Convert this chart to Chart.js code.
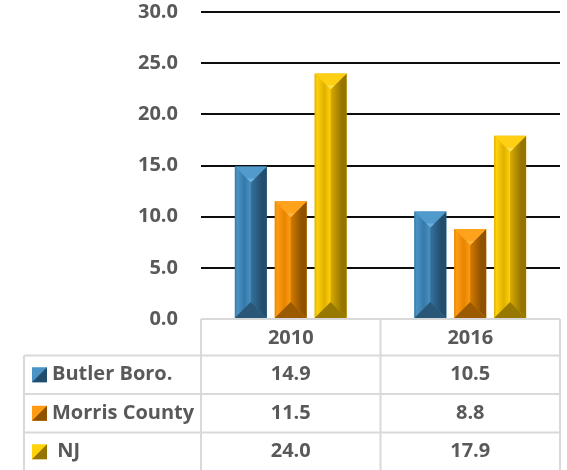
<!DOCTYPE html>
<html><head><meta charset="utf-8">
<script src="https://cdn.jsdelivr.net/npm/chart.js@4.4.1/dist/chart.umd.min.js"></script>
<style>html,body{margin:0;padding:0;background:#fff}#wrap{width:567px;height:470px;position:relative}</style>
</head><body><div id="wrap"><canvas id="c" width="567" height="470"></canvas></div>
<script>
const categories = ['2010', '2016'];
const seriesNames = ['Butler Boro.', 'Morris County', 'NJ'];
const butlerValues = [14.9, 10.5];
const morrisValues = [11.5, 8.8];
const njValues = [24.0, 17.9];
const yTickMin = 0, yTickMax = 30, yTickStep = 5;

const palettes = [
  {main:'#3a7fb0', light:'#6ab0dc', edgeL:'#3579a9', ridgeL:'#4a93c4', ridgeR:'#35729e', edgeR:'#234d6c', top:'#519bcc', bottom:'#2a5777'},
  {main:'#f08c00', light:'#ffb640', edgeL:'#e88500', ridgeL:'#ff9c14', ridgeR:'#d27a00', edgeR:'#8f5200', top:'#ffa21c', bottom:'#9c5a00'},
  {main:'#e8b800', light:'#ffe050', edgeL:'#e0b000', ridgeL:'#ffd20a', ridgeR:'#d8aa00', edgeR:'#957500', top:'#ffcf14', bottom:'#977800'}
];
const textColor = '#595959';
const fontFam = '"Open Sans", Lato, sans-serif';
const fontSize = 20;

const facetPlugin = {
  id: 'facets',
  afterDatasetsDraw(chart) {
    const ctx = chart.ctx;
    chart.data.datasets.forEach((ds, di) => {
      const meta = chart.getDatasetMeta(di);
      const p = palettes[di];
      meta.data.forEach(el => {
        const {x, y, base, width} = el.getProps(['x','y','base','width'], true);
        const l = x - width/2, r = x + width/2, h = width/2;
        const t = y, b = base;
        const bev = Math.min(h, (b - t)/2);
        ctx.save();
        let g = ctx.createLinearGradient(l, 0, x, 0);
        g.addColorStop(0, p.edgeL); g.addColorStop(0.15, p.ridgeL); g.addColorStop(0.6, p.edgeL); g.addColorStop(1, p.ridgeL);
        ctx.fillStyle = g;
        ctx.beginPath(); ctx.moveTo(l, t); ctx.lineTo(x, t + bev); ctx.lineTo(x, b - bev); ctx.lineTo(l, b); ctx.closePath(); ctx.fill();
        g = ctx.createLinearGradient(x, 0, r, 0);
        g.addColorStop(0, p.ridgeR); g.addColorStop(0.7, p.edgeR); g.addColorStop(1, p.edgeR);
        ctx.fillStyle = g;
        ctx.beginPath(); ctx.moveTo(x, t + bev); ctx.lineTo(r, t); ctx.lineTo(r, b); ctx.lineTo(x, b - bev); ctx.closePath(); ctx.fill();
        ctx.fillStyle = p.top;
        ctx.beginPath(); ctx.moveTo(l, t); ctx.lineTo(r, t); ctx.lineTo(x, t + bev); ctx.closePath(); ctx.fill();
        ctx.fillStyle = p.light;
        ctx.beginPath(); ctx.moveTo(x - 4, t + bev - 4); ctx.lineTo(x + 4, t + bev - 4); ctx.lineTo(x, t + bev); ctx.closePath(); ctx.fill();
        ctx.fillStyle = p.bottom;
        ctx.beginPath(); ctx.moveTo(l, b); ctx.lineTo(x, b - bev); ctx.lineTo(r, b); ctx.closePath(); ctx.fill();
        ctx.restore();
      });
    });
  }
};

const tablePlugin = {
  id: 'dataTable',
  afterDraw(chart) {
    const ctx = chart.ctx;
    const xs = chart.scales.x;
    const ca = chart.chartArea;
    const half = (xs.getPixelForValue(1) - xs.getPixelForValue(0)) / 2;
    const colL = xs.getPixelForValue(0) - half;
    const colR = xs.getPixelForValue(categories.length - 1) + half;
    const labelL = 24;
    const rows = [ca.bottom, ca.bottom + 36.5, ca.bottom + 75, ca.bottom + 113.5, ca.bottom + 152];
    const seriesData = [butlerValues, morrisValues, njValues];
    ctx.save();
    ctx.strokeStyle = '#d9d9d9';
    ctx.lineWidth = 2;
    ctx.beginPath();
    ctx.moveTo(colL, rows[0]); ctx.lineTo(colR, rows[0]);
    for (let i = 1; i < rows.length; i++) { ctx.moveTo(labelL, rows[i]); ctx.lineTo(colR, rows[i]); }
    ctx.moveTo(labelL, rows[1]); ctx.lineTo(labelL, rows[4]);
    for (let c = 0; c <= categories.length; c++) {
      const xx = colL + c * 2 * half;
      ctx.moveTo(xx, rows[0]); ctx.lineTo(xx, rows[4]);
    }
    ctx.stroke();
    ctx.font = 'bold ' + fontSize + 'px ' + fontFam;
    ctx.textBaseline = 'middle';
    seriesNames.forEach((name, si) => {
      const cy = (rows[si + 1] + rows[si + 2]) / 2;
      const p = palettes[si];
      const ix = 32, iy = cy - 7.5, s = 15;
      ctx.fillStyle = p.ridgeL;
      ctx.fillRect(ix, iy, s, s);
      ctx.fillStyle = p.edgeR;
      ctx.beginPath(); ctx.moveTo(ix + s, iy); ctx.lineTo(ix + s, iy + s); ctx.lineTo(ix, iy + s); ctx.closePath(); ctx.fill();
      ctx.fillStyle = textColor;
      ctx.textAlign = 'left';
      ctx.fillText((si === 2 ? ' ' : '') + name, 52, cy);
      ctx.textAlign = 'center';
      seriesData[si].forEach((v, ci) => {
        ctx.fillText(v.toFixed(1), xs.getPixelForValue(ci), cy);
      });
    });
    ctx.restore();
  }
};

const ds = [butlerValues, morrisValues, njValues].map((vals, i) => ({
  label: seriesNames[i],
  data: vals,
  backgroundColor: palettes[i].main,
  borderWidth: 0,
  barPercentage: 0.8,
  categoryPercentage: 0.667
}));

new Chart(document.getElementById('c'), {
  type: 'bar',
  data: { labels: categories, datasets: ds },
  options: {
    responsive: false,
    devicePixelRatio: 1,
    animation: false,
    layout: { padding: { left: 0, right: 7, top: 0, bottom: 0 } },
    plugins: { legend: { display: false }, tooltip: { enabled: false } },
    scales: {
      x: {
        grid: { display: false, drawTicks: false },
        border: { display: false },
        ticks: { font: { family: fontFam, size: fontSize, weight: 'bold' }, color: textColor, padding: 7 },
        afterFit(s) { s.height = 151; }
      },
      y: {
        min: yTickMin, max: yTickMax,
        ticks: { stepSize: yTickStep, callback: v => Number(v).toFixed(1), font: { family: fontFam, size: fontSize, weight: 'bold' }, color: textColor, padding: 23 },
        grid: { drawTicks: false, lineWidth: 2, color: c => (c.tick && c.tick.value === 0) ? 'rgba(0,0,0,0)' : '#0d0d0d' },
        border: { display: false },
        afterFit(s) { s.width = 201; s.paddingTop = 12; s.paddingBottom = 0; }
      }
    }
  },
  plugins: [facetPlugin, tablePlugin]
});
</script></body></html>
